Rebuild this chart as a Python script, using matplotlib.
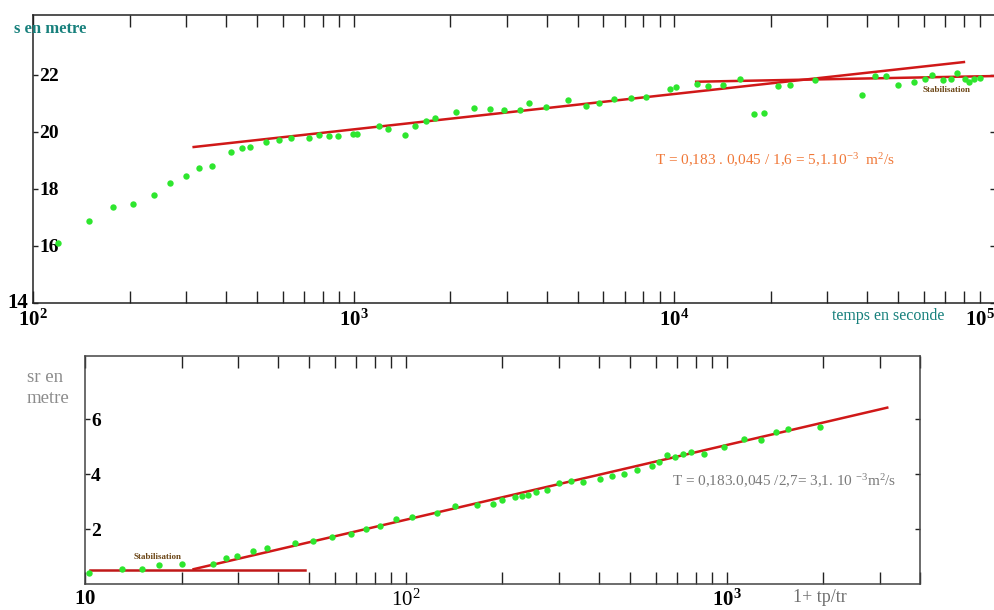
import matplotlib
matplotlib.use('Agg')
import matplotlib.pyplot as plt
import matplotlib.transforms as mtransforms
from matplotlib.ticker import FixedLocator, FixedFormatter, NullFormatter

plt.rcParams['font.family'] = ['Liberation Serif', 'DejaVu Serif']
plt.rcParams['mathtext.fontset'] = 'custom'
plt.rcParams['mathtext.rm'] = 'Liberation Serif'
plt.rcParams['mathtext.bf'] = 'Liberation Serif:bold'
plt.rcParams['mathtext.it'] = 'Liberation Serif:italic'

# ---------------- data: top plot (descente) ----------------
t_top = [120, 150, 177, 205, 239, 268, 300, 330, 362, 413,
         448, 476, 531, 587, 639, 725, 781, 837, 896, 995,
         1026, 1203, 1279, 1446, 1549, 1675, 1790, 2088, 2367, 2653,
         2953, 3292, 3519, 3986, 4654, 5290, 5842, 6484, 7348, 8150,
         9680, 10140, 11740, 12760, 14160, 16060, 17660, 19090, 21030, 22910,
         27490, 38560, 42390, 45570, 49800, 55990, 60460, 63560, 69060, 72730,
         75900, 80700, 83200, 86300, 90000]
s_top = [16.09, 16.88, 17.35, 17.46, 17.79, 18.21, 18.44, 18.73, 18.82, 19.30,
         19.45, 19.47, 19.63, 19.70, 19.77, 19.77, 19.88, 19.85, 19.87, 19.93,
         19.93, 20.21, 20.10, 19.89, 20.21, 20.40, 20.50, 20.70, 20.85, 20.82,
         20.76, 20.77, 21.01, 20.88, 21.11, 20.91, 21.01, 21.15, 21.18, 21.22,
         21.49, 21.57, 21.67, 21.61, 21.63, 21.85, 20.62, 20.68, 21.60, 21.65,
         21.81, 21.29, 21.96, 21.96, 21.64, 21.75, 21.87, 22.00, 21.81, 21.87,
         22.05, 21.87, 21.75, 21.87, 21.88]
fit_top_t = [317, 80000]
fit_top_s = [19.47, 22.45]
stab_top_t = [11700, 100000]
stab_top_s = [21.76, 21.96]
top_yticks = [14, 16, 18, 20, 22]
top_xticks = [1e2, 1e3, 1e4, 1e5]
top_xlabels = [r'$\mathbf{10^{2}}$', r'$\mathbf{10^{3}}$', r'$\mathbf{10^{4}}$', r'$\mathbf{10^{5}}$']

# ---------------- data: bottom plot (remontée) ----------------
x_bot = [10.3, 13.0, 15.1, 17.0, 20.1, 25.0, 27.5, 29.8, 33.3, 37.0,
         45.0, 51.3, 58.8, 67.3, 74.9, 83.0, 93.1, 104.7, 125.3, 142.6,
         166.4, 186.7, 198.6, 219.2, 230.4, 240, 254, 275.6, 301, 328,
         357, 404, 438, 479, 525, 583, 615, 649, 689, 731,
         773, 848, 980, 1132, 1276, 1428, 1546, 1950]
y_bot = [0.39, 0.53, 0.53, 0.69, 0.72, 0.72, 0.96, 1.03, 1.21, 1.32,
         1.50, 1.57, 1.72, 1.82, 2.00, 2.11, 2.37, 2.44, 2.57, 2.83,
         2.86, 2.90, 3.05, 3.18, 3.22, 3.25, 3.36, 3.42, 3.67, 3.76,
         3.70, 3.83, 3.92, 4.00, 4.14, 4.31, 4.43, 4.70, 4.64, 4.74,
         4.80, 4.72, 4.98, 5.27, 5.24, 5.55, 5.65, 5.73]
fit_bot_x = [21.8, 3162]
fit_bot_y = [0.54, 6.42]
stab_bot_x = [10.4, 48.4]
stab_bot_y = [0.51, 0.51]
bot_yticks = [2, 4, 6]
bot_xticks = [10, 100, 1000]
bot_xlabels = [r'$\mathbf{10}$', r'$10^{2}$', r'$\mathbf{10^{3}}$']

GREEN = '#2ee62e'
RED = '#d01818'
W, H = 995, 610

fig = plt.figure(figsize=(9.95, 6.10), dpi=100)


def ax_rect(l, t, r, b):
    return [l / W, 1 - b / H, (r - l) / W, (b - t) / H]


def style_axes(ax, spine_col='#222222'):
    for sp in ax.spines.values():
        sp.set_color(spine_col)
        sp.set_linewidth(1.1)
    ax.tick_params(axis='x', which='both', direction='in', top=True, bottom=True,
                   length=8.5, width=1.0, color='#222222')
    ax.tick_params(axis='y', which='both', direction='in', left=True, right=True,
                   length=3.5, width=1.0, color='#222222', pad=-4.5)


# ---------------- top axes ----------------
ax1 = fig.add_axes(ax_rect(33, 15, 995, 303))
ax1.set_xscale('log')
ax1.set_xlim(1e2, 1e5)
ax1.set_ylim(14, 24.1)
ax1.plot(t_top, s_top, 'o', color=GREEN, ms=4.6, mec='none', zorder=3)
ax1.plot(fit_top_t, fit_top_s, '-', color=RED, lw=1.8, zorder=2)
ax1.plot(stab_top_t, stab_top_s, '-', color=RED, lw=1.8, zorder=2)
style_axes(ax1)
ax1.spines['right'].set_visible(False)
ax1.xaxis.set_major_locator(FixedLocator(top_xticks))
ax1.xaxis.set_major_formatter(FixedFormatter(top_xlabels))
ax1.xaxis.set_minor_formatter(NullFormatter())
ax1.tick_params(axis='x', which='major', labelsize=15, pad=5)
xl = ax1.get_xticklabels()
xl[-1].set_horizontalalignment('right')
ax1.yaxis.set_major_locator(FixedLocator(top_yticks))
ax1.yaxis.set_major_formatter(FixedFormatter([''] + [str(v) for v in top_yticks[1:]]))
for lab in ax1.get_yticklabels():
    lab.set_horizontalalignment('left')
    lab.set_fontweight('bold')
    lab.set_fontsize(14)
trans1 = mtransforms.blended_transform_factory(ax1.transAxes, ax1.transData)
ax1.text(-0.005, top_yticks[0], str(top_yticks[0]), transform=trans1, ha='right', va='center',
         fontsize=15, fontweight='bold', color='black')

ax1.text(0.95, 0.74, 'Stabilisation', transform=ax1.transAxes, ha='center', va='center',
         fontsize=6.5, fontweight='bold', color='#6b4515')
ax1.text(0.647, 0.495, r'T = 0,183 . 0,045 / 1,6 = 5,1.10$^{-3}$  m$^{2}$/s',
         transform=ax1.transAxes, ha='left', va='center', fontsize=11, color='#f07838')

fig.text(14 / W, 1 - 29 / H, 's en metre', ha='left', va='center', fontsize=12,
         fontweight='bold', color='#17807c')
fig.text(888 / W, 1 - 316 / H, 'temps en seconde', ha='center', va='center', fontsize=11.5,
         color='#17807c')

# ---------------- bottom axes ----------------
ax2 = fig.add_axes(ax_rect(85, 356, 920, 584))
ax2.set_xscale('log')
ax2.set_xlim(10, 4000)
ax2.set_ylim(0, 8.3)
ax2.plot(x_bot, y_bot, 'o', color=GREEN, ms=4.6, mec='none', zorder=3)
ax2.plot(fit_bot_x, fit_bot_y, '-', color=RED, lw=1.8, zorder=2)
ax2.plot(stab_bot_x, stab_bot_y, '-', color='#c01818', lw=1.8, zorder=2)
style_axes(ax2, spine_col='#444444')
ax2.xaxis.set_major_locator(FixedLocator(bot_xticks))
ax2.xaxis.set_major_formatter(FixedFormatter(bot_xlabels))
ax2.xaxis.set_minor_formatter(NullFormatter())
ax2.tick_params(axis='x', which='major', labelsize=15, pad=4)
ax2.yaxis.set_major_locator(FixedLocator(bot_yticks))
ax2.yaxis.set_major_formatter(FixedFormatter([str(v) for v in bot_yticks]))
for lab in ax2.get_yticklabels():
    lab.set_horizontalalignment('left')
    lab.set_fontweight('bold')
    lab.set_fontsize(14)

ax2.text(0.087, 0.12, 'Stabilisation', transform=ax2.transAxes, ha='center', va='center',
         fontsize=6.5, fontweight='bold', color='#6b4515')
ax2.text(0.703, 0.45, r'T = 0,183.0,045 /2,7= 3,1. 10 $^{-3}$m$^{2}$/s',
         transform=ax2.transAxes, ha='left', va='center', fontsize=11, color='#7a7a7a')

fig.text(27 / W, 1 - 388 / H, 'sr en\nmetre', ha='left', va='center', fontsize=13.5,
         color='#8c8c8c', linespacing=1.35)
fig.text(820 / W, 1 - 598 / H, '1+ tp/tr', ha='center', va='center', fontsize=13,
         color='#707070')

fig.savefig('out.png', dpi=100, facecolor='white')
